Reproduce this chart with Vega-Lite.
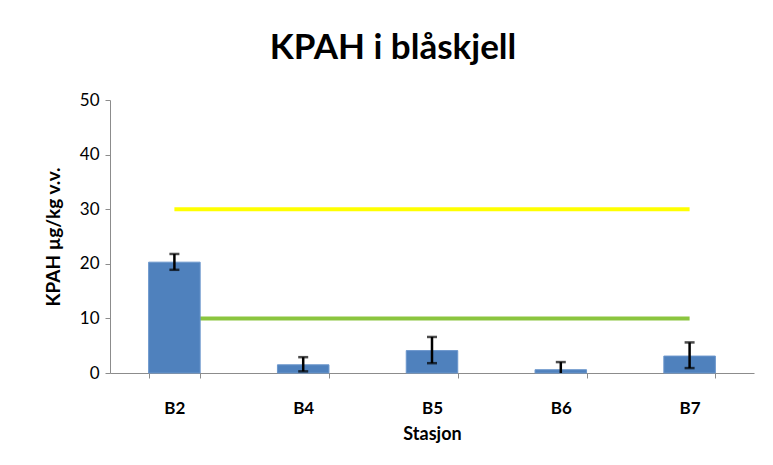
{
  "$schema": "https://vega.github.io/schema/vega-lite/v6.json",
  "width": 644,
  "height": 273,
  "autosize": {"type": "none"},
  "padding": {"left": 110, "top": 100, "right": 19, "bottom": 92},
  "background": "white",
  "config": {"view": {"stroke": null}},
  "title": {"text": "KPAH i blåskjell", "font": "Lato", "fontSize": 35, "fontWeight": "bold", "color": "#000000", "anchor": "middle", "frame": "group", "dx": -39, "offset": 25},
  "data": {"values": [
    {"station": "B2", "value": 20.3, "lo": 18.9, "hi": 21.8, "green": 10, "yellow": 30},
    {"station": "B4", "value": 1.5, "lo": 0.3, "hi": 2.9, "green": 10, "yellow": 30},
    {"station": "B5", "value": 4.1, "lo": 1.8, "hi": 6.6, "green": 10, "yellow": 30},
    {"station": "B6", "value": 0.6, "lo": -0.8, "hi": 2.0, "green": 10, "yellow": 30},
    {"station": "B7", "value": 3.1, "lo": 0.9, "hi": 5.6, "green": 10, "yellow": 30}
  ]},
  "encoding": {
    "x": {"field": "station", "type": "nominal", "sort": null,
      "scale": {"paddingInner": 0.6, "paddingOuter": 0.3},
      "axis": {"title": "Stasjon", "labelAngle": 0, "tickBand": "extent", "domainColor": "#8c8c8c", "tickColor": "#8c8c8c", "tickSize": 5, "labelFont": "Lato", "labelFontSize": 17, "labelFontWeight": "bold", "labelColor": "#000000", "labelPadding": 22, "titleFont": "Lato", "titleFontSize": 18, "titleFontWeight": "bold", "titleColor": "#000000", "titlePadding": 9}}
  },
  "layer": [
    {"mark": {"type": "line", "color": "#8BC53F", "strokeWidth": 4},
     "encoding": {"y": {"field": "green", "type": "quantitative", "scale": {"domain": [0, 50]},
       "axis": {"title": "KPAH µg/kg v.v.", "values": [0, 10, 20, 30, 40, 50], "grid": false, "domainColor": "#8c8c8c", "tickColor": "#8c8c8c", "tickSize": 5, "labelFont": "Lato", "labelFontSize": 17, "labelColor": "#000000", "labelPadding": 6, "titleFont": "Lato", "titleFontSize": 19, "titleFontWeight": "bold", "titleColor": "#000000", "titlePadding": 16}}}},
    {"mark": {"type": "bar", "color": "#4F81BD", "stroke": "#6b96cc", "strokeWidth": 1},
     "encoding": {"y": {"field": "value", "type": "quantitative"}}},
    {"mark": {"type": "line", "color": "#FFFF00", "strokeWidth": 4},
     "encoding": {"y": {"field": "yellow", "type": "quantitative"}}},
    {"mark": {"type": "rule", "color": "#000000", "strokeWidth": 2.5, "clip": true},
     "encoding": {"y": {"field": "lo", "type": "quantitative"}, "y2": {"field": "hi"}}},
    {"mark": {"type": "tick", "color": "#000000", "thickness": 2.5, "size": 10, "clip": true},
     "encoding": {"y": {"field": "lo", "type": "quantitative"}}},
    {"mark": {"type": "tick", "color": "#000000", "thickness": 2.5, "size": 10, "clip": true},
     "encoding": {"y": {"field": "hi", "type": "quantitative"}}}
  ]
}
